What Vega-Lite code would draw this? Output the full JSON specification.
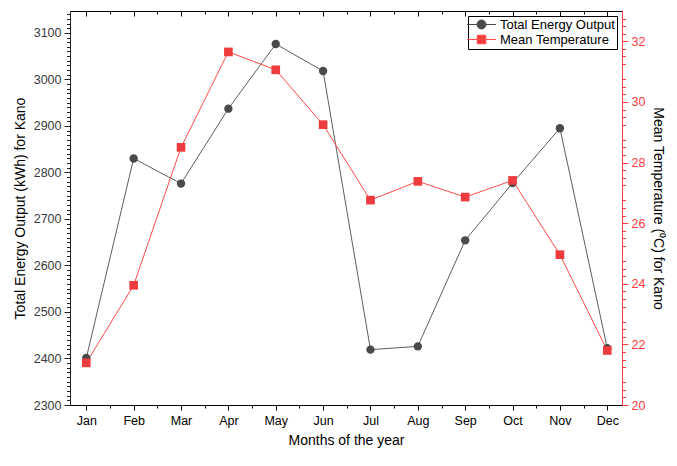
{
  "$schema": "https://vega.github.io/schema/vega-lite/v6.json",
  "autosize": {"type": "none"},
  "width": 552,
  "height": 394,
  "padding": {"left": 70, "top": 11, "right": 55, "bottom": 61},
  "background": "white",
  "config": {
    "view": {"stroke": null},
    "font": "Liberation Sans",
    "axis": {"grid": false, "labelFont": "Liberation Sans", "titleFont": "Liberation Sans", "titleFontWeight": "normal", "labelFontSize": 12.5, "titleFontSize": 14, "labelFlush": false, "labelOverlap": false, "titleColor": "black"},
    "legend": {"orient": "top-right", "offset": 5, "title": null, "strokeColor": "black", "fillColor": "white", "padding": 2,
      "labelFont": "Liberation Sans", "labelFontSize": 13, "labelColor": "black", "symbolSize": 81, "symbolStrokeWidth": 1, "symbolOpacity": 1,
      "symbolOffset": 5, "labelOffset": 12, "rowPadding": 1}
  },
  "data": {
    "values": [
      {"m": 1, "energy": 2401, "temp": 21.39},
      {"m": 2, "energy": 2830, "temp": 23.95},
      {"m": 3, "energy": 2776, "temp": 28.5},
      {"m": 4, "energy": 2937, "temp": 31.65},
      {"m": 5, "energy": 3076, "temp": 31.06},
      {"m": 6, "energy": 3018, "temp": 29.25},
      {"m": 7, "energy": 2419, "temp": 26.76},
      {"m": 8, "energy": 2426, "temp": 27.38},
      {"m": 9, "energy": 2654, "temp": 26.86},
      {"m": 10, "energy": 2777, "temp": 27.41},
      {"m": 11, "energy": 2895, "temp": 24.96},
      {"m": 12, "energy": 2422, "temp": 21.8}
    ]
  },
  "resolve": {"scale": {"y": "independent"}, "axis": {"x": "independent", "y": "independent"}},
  "layer": [
    {
      "mark": {"type": "line", "color": "#5e5e5e", "strokeWidth": 1},
      "encoding": {
        "x": {"field": "m", "type": "quantitative", "scale": {"domain": [0.656, 12.311], "nice": false, "zero": false},
          "axis": {"orient": "bottom", "values": [1,2,3,4,5,6,7,8,9,10,11,12],
            "labelExpr": "['Jan','Feb','Mar','Apr','May','Jun','Jul','Aug','Sep','Oct','Nov','Dec'][datum.value-1]",
            "tickSize": 5, "labelPadding": 4, "title": "Months of the year", "titlePadding": 7,
            "domainColor": "black", "tickColor": "black", "labelColor": "black"}},
        "y": {"field": "energy", "type": "quantitative", "scale": {"domain": [2300, 3147], "nice": false, "zero": false},
          "axis": {"orient": "left", "values": [2300,2400,2500,2600,2700,2800,2900,3000,3100], "format": "d",
            "tickSize": 6, "labelPadding": 3, "title": "Total Energy Output (kWh) for Kano", "titlePadding": 6,
            "domainColor": "#222", "tickColor": "#222", "labelColor": "#3a3a3a"}}
      }
    },
    {
      "mark": {"type": "line", "color": "#ff4a4a", "strokeWidth": 1},
      "encoding": {
        "x": {"field": "m", "type": "quantitative", "scale": {"domain": [0.656, 12.311], "nice": false, "zero": false},
          "axis": {"orient": "top", "values": [1,2,3,4,5,6,7,8,9,10,11,12], "tickSize": -5, "labels": false, "title": null,
            "domainColor": "black", "tickColor": "black"}},
        "y": {"field": "temp", "type": "quantitative", "scale": {"domain": [20, 33], "nice": false, "zero": false},
          "axis": {"orient": "right", "values": [20,22,24,26,28,30,32], "tickSize": 6, "labelPadding": 3,
            "title": "Mean Temperature (⁰C) for Kano", "titlePadding": 6,
            "domainColor": "#ff3b3b", "tickColor": "#ff3b3b", "labelColor": "#ff3b3b", "titleColor": "black"}}
      }
    },
    {
      "mark": {"type": "point", "filled": true, "shape": "circle", "size": 70, "opacity": 1, "color": "#4a4a4a"},
      "encoding": {
        "x": {"field": "m", "type": "quantitative", "scale": {"domain": [0.656, 12.311], "nice": false, "zero": false},
          "axis": {"orient": "bottom", "values": [1.5,2.5,3.5,4.5,5.5,6.5,7.5,8.5,9.5,10.5,11.5], "tickSize": 3, "labels": false, "title": null,
            "domainColor": "black", "tickColor": "black"}},
        "y": {"field": "energy", "type": "quantitative", "scale": {"domain": [2300, 3147], "nice": false, "zero": false},
          "axis": {"orient": "left", "values": [2310,2320,2330,2340,2350,2360,2370,2380,2390,2410,2420,2430,2440,2450,2460,2470,2480,2490,2510,2520,2530,2540,2550,2560,2570,2580,2590,2610,2620,2630,2640,2650,2660,2670,2680,2690,2710,2720,2730,2740,2750,2760,2770,2780,2790,2810,2820,2830,2840,2850,2860,2870,2880,2890,2910,2920,2930,2940,2950,2960,2970,2980,2990,3010,3020,3030,3040,3050,3060,3070,3080,3090,3110,3120,3130,3140],
            "tickSize": 3.5, "labels": false, "title": null, "domainColor": "#222", "tickColor": "#222"}}
      }
    },
    {
      "mark": {"type": "point", "filled": true, "shape": "square", "size": 75, "opacity": 1, "color": "#ee3b3d"},
      "encoding": {
        "x": {"field": "m", "type": "quantitative", "scale": {"domain": [0.656, 12.311], "nice": false, "zero": false},
          "axis": {"orient": "top", "values": [1.5,2.5,3.5,4.5,5.5,6.5,7.5,8.5,9.5,10.5,11.5], "tickSize": -3, "labels": false, "title": null,
            "domainColor": "black", "tickColor": "black"}},
        "y": {"field": "temp", "type": "quantitative", "scale": {"domain": [20, 33], "nice": false, "zero": false},
          "axis": {"orient": "right", "values": [20.25,20.5,20.75,21.25,21.5,21.75,22.25,22.5,22.75,23.25,23.5,23.75,24.25,24.5,24.75,25.25,25.5,25.75,26.25,26.5,26.75,27.25,27.5,27.75,28.25,28.5,28.75,29.25,29.5,29.75,30.25,30.5,30.75,31.25,31.5,31.75,32.25,32.5,32.75],
            "tickSize": 3.5, "labels": false, "title": null, "domainColor": "#ff3b3b", "tickColor": "#ff3b3b"}}
      }
    },
    {
      "mark": {"type": "point", "filled": true, "size": 81, "opacity": 0, "strokeWidth": 1},
      "encoding": {
        "x": {"field": "m", "type": "quantitative", "scale": {"domain": [0.656, 12.311], "nice": false, "zero": false}, "axis": null},
        "y": {"field": "energy", "type": "quantitative", "scale": {"domain": [2300, 3147], "nice": false, "zero": false}, "axis": null},
        "fill": {"datum": "Total Energy Output", "type": "nominal",
          "scale": {"domain": ["Total Energy Output", "Mean Temperature"], "range": ["#4a4a4a", "#ee3b3d"]}},
        "stroke": {"datum": "Total Energy Output", "type": "nominal",
          "scale": {"domain": ["Total Energy Output", "Mean Temperature"], "range": ["#4a4a4a", "#ff4a4a"]}},
        "shape": {"datum": "Total Energy Output", "type": "nominal",
          "scale": {"domain": ["Total Energy Output", "Mean Temperature"],
            "range": ["M-3.2,0L3.2,0M1,0A1,1,0,1,1,-1,0A1,1,0,1,1,1,0Z", "M-3.2,0L3.2,0M-0.95,-0.95L0.95,-0.95L0.95,0.95L-0.95,0.95Z"]}}
      }
    },
    {
      "mark": {"type": "point", "filled": true, "size": 81, "opacity": 0, "strokeWidth": 1},
      "encoding": {
        "x": {"field": "m", "type": "quantitative", "scale": {"domain": [0.656, 12.311], "nice": false, "zero": false}, "axis": null},
        "y": {"field": "temp", "type": "quantitative", "scale": {"domain": [20, 33], "nice": false, "zero": false}, "axis": null},
        "fill": {"datum": "Mean Temperature", "type": "nominal"},
        "stroke": {"datum": "Mean Temperature", "type": "nominal"},
        "shape": {"datum": "Mean Temperature", "type": "nominal"}
      }
    }
  ]
}
